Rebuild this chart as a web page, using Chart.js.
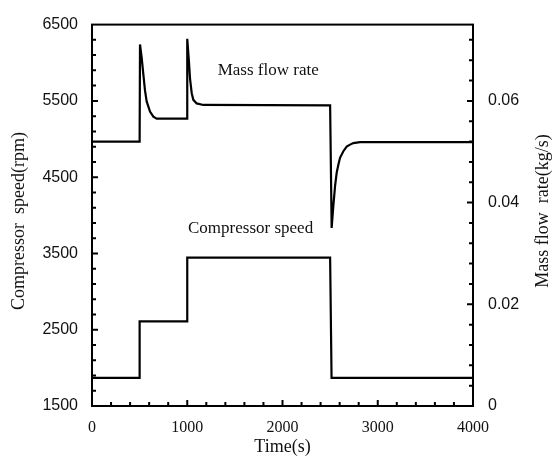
<!DOCTYPE html>
<html>
<head>
<meta charset="utf-8">
<script src="https://cdn.jsdelivr.net/npm/chart.js@4.4.0/dist/chart.umd.min.js"></script>
<style>
  html, body { margin: 0; padding: 0; background: #fff; }
  #wrap { width: 555px; height: 462px; }
</style>
</head>
<body>
<div id="wrap"><canvas id="chart"></canvas></div>
<script>
// compressor speed (rpm), step changes
const speedTime = [0, 500, 500, 1000, 1000, 2500, 2515, 4000];
const speedValues = [1870, 1870, 2610, 2610, 3445, 3445, 1870, 1870];

// mass flow rate (kg/s)
const flowTime = [0, 500, 504, 521, 538, 556, 574, 609, 644, 679,
  1000, 1000, 1018, 1029, 1047, 1064, 1099, 1169,
  2500, 2516, 2534, 2552, 2569, 2587, 2604, 2639, 2674, 2709, 2744, 2814, 4000];
const flowValues = [0.052, 0.052, 0.0711, 0.0686, 0.0654, 0.0621, 0.0599, 0.0579, 0.0569, 0.0565,
  0.0565, 0.0722, 0.0677, 0.0644, 0.0615, 0.0602, 0.0595, 0.0592,
  0.0591, 0.0350, 0.0394, 0.0433, 0.0459, 0.0475, 0.0488, 0.0501, 0.0510, 0.0514, 0.0517, 0.0519, 0.0519];

// tick labels
const timeTicks = [0, 1000, 2000, 3000, 4000];
const speedTicks = [1500, 2500, 3500, 4500, 5500, 6500];
const flowTicks = [0, 0.02, 0.04, 0.06];

const ink = '#111';
const serif = 'Liberation Serif';
const sans = 'Liberation Sans';

const toPoints = (xs, ys) => xs.map((x, i) => ({ x: x, y: ys[i] }));

// frame, inward ticks, rotated titles and the two curve labels
const framePlugin = {
  id: 'frame',
  afterDatasetsDraw(chart) {
    const { ctx, chartArea: a, scales } = chart;
    ctx.save();
    ctx.strokeStyle = '#000';
    ctx.lineWidth = 2;
    ctx.strokeRect(a.left, a.top, a.right - a.left, a.bottom - a.top);

    ctx.beginPath();
    for (let i = 1; i < 20; i++) {
      const px = scales.x.getPixelForValue(i * 200);
      const len = i % 5 === 0 ? 6 : 4;
      ctx.moveTo(px, a.bottom);
      ctx.lineTo(px, a.bottom - len);
    }
    for (let i = 1; i < 25; i++) {
      const py = scales.y.getPixelForValue(1500 + i * 200);
      const len = i % 5 === 0 ? 6 : 4;
      ctx.moveTo(a.left, py);
      ctx.lineTo(a.left + len, py);
    }
    for (let i = 1; i <= 18; i++) {
      const py = scales.y1.getPixelForValue(i * 0.004);
      const len = i % 5 === 0 ? 6 : 4;
      ctx.moveTo(a.right, py);
      ctx.lineTo(a.right - len, py);
    }
    ctx.stroke();

    ctx.fillStyle = ink;
    ctx.textAlign = 'center';
    ctx.textBaseline = 'middle';
    ctx.font = '18px "' + serif + '"';

    ctx.save();
    ctx.translate(19, 221);
    ctx.rotate(-Math.PI / 2);
    ctx.fillText('Compressor  speed(rpm)', 0, 0);
    ctx.restore();

    ctx.save();
    ctx.translate(543, 211);
    ctx.rotate(-Math.PI / 2);
    ctx.fillText('Mass flow  rate(kg/s)', 0, 0);
    ctx.restore();

    ctx.font = '17px "' + serif + '"';
    ctx.fillText('Mass flow rate', scales.x.getPixelForValue(1850), scales.y.getPixelForValue(5900));
    ctx.fillText('Compressor speed', scales.x.getPixelForValue(1665), scales.y.getPixelForValue(3820));
    ctx.restore();
  }
};

const data = {
  datasets: [{
    label: 'Compressor speed',
    data: toPoints(speedTime, speedValues),
    yAxisID: 'y',
    borderColor: '#000',
    borderWidth: 2.2,
    pointRadius: 0,
    tension: 0,
    fill: false,
  }, {
    label: 'Mass flow rate',
    data: toPoints(flowTime, flowValues),
    yAxisID: 'y1',
    borderColor: '#000',
    borderWidth: 2.2,
    pointRadius: 0,
    tension: 0,
    fill: false,
  }]
};

const config = {
  type: 'line',
  data: data,
  options: {
    responsive: true,
    maintainAspectRatio: false,
    animation: false,
    layout: { padding: { top: 20, left: 0, right: 0, bottom: 0 } },
    plugins: { legend: { display: false }, tooltip: { enabled: false } },
    scales: {
      x: {
        type: 'linear',
        position: 'bottom',
        min: 0,
        max: 4000,
        afterFit: s => { s.height = 56; },
        afterBuildTicks: s => { s.ticks = timeTicks.map(v => ({ value: v })); },
        grid: { display: false, drawTicks: false },
        border: { display: false },
        ticks: { color: ink, font: { family: serif, size: 16 }, padding: 12, maxRotation: 0, callback: v => String(v) },
        title: { display: true, text: 'Time(s)', color: ink, font: { family: serif, size: 18 }, padding: { top: 0, bottom: 4 } }
      },
      y: {
        type: 'linear',
        position: 'left',
        min: 1500,
        max: 6500,
        afterFit: s => { s.width = 92; },
        afterBuildTicks: s => { s.ticks = speedTicks.map(v => ({ value: v })); },
        grid: { display: false, drawTicks: false },
        border: { display: false },
        ticks: { color: ink, font: { family: sans, size: 16 }, padding: 14, callback: v => String(v) }
      },
      y1: {
        type: 'linear',
        position: 'right',
        min: 0,
        max: 0.075,
        afterFit: s => { s.width = 82; },
        afterBuildTicks: s => { s.ticks = flowTicks.map(v => ({ value: v })); },
        grid: { display: false, drawTicks: false },
        border: { display: false },
        ticks: {
          color: ink,
          font: { family: sans, size: 16 },
          padding: 15,
          callback: v => v === 0 ? '0' : v.toFixed(2)
        }
      }
    }
  },
  plugins: [framePlugin]
};

const ctx = document.getElementById('chart');

new Chart(ctx, config);
</script>
</body>
</html>
